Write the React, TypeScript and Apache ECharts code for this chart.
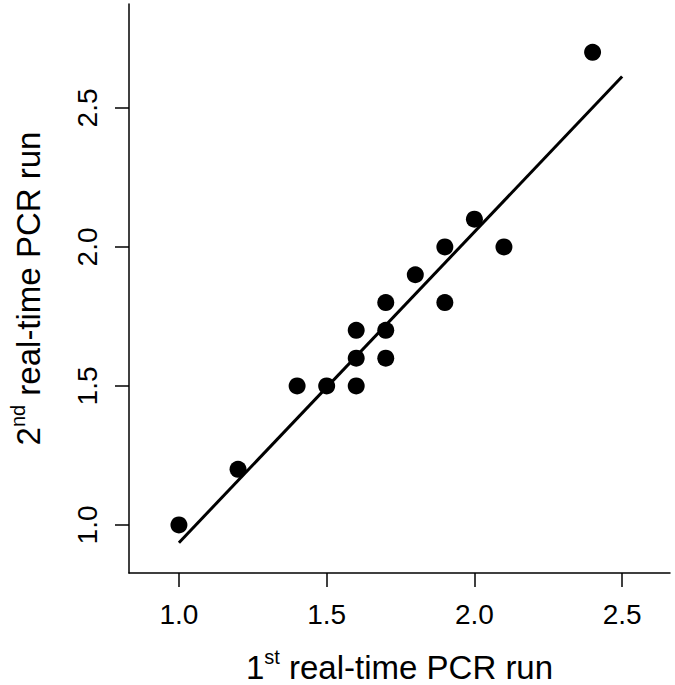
import React, { useEffect, useRef } from "react";
import * as echarts from "echarts";

// Data
const firstRun: number[] = [1.0, 1.2, 1.4, 1.5, 1.6, 1.6, 1.6, 1.7, 1.7, 1.7, 1.8, 1.9, 1.9, 2.0, 2.1, 2.4];
const secondRun: number[] = [1.0, 1.2, 1.5, 1.5, 1.5, 1.6, 1.7, 1.6, 1.7, 1.8, 1.9, 1.8, 2.0, 2.1, 2.0, 2.7];

// Fitted line endpoints
const fitX: number[] = [1.0, 2.5];
const fitY: number[] = [0.936, 2.613];

const xTicks: number[] = [1.0, 1.5, 2.0, 2.5];
const yTicks: number[] = [1.0, 1.5, 2.0, 2.5];

const FONT = "Liberation Sans, Arial, Helvetica, sans-serif";

export default function App() {
  const ref = useRef<HTMLDivElement>(null);

  useEffect(() => {
    document.body.style.margin = "0";
    if (!ref.current) return;
    const chart = echarts.init(ref.current, null, { renderer: "svg" });

    const points = firstRun.map((x, i) => [x, secondRun[i]]);
    const fit = fitX.map((x, i) => [x, fitY[i]]);

    const richTitle = {
      a: { fontSize: 33, fontFamily: FONT, color: "#000", lineHeight: 40 },
      s: { fontSize: 20, fontFamily: FONT, color: "#000", verticalAlign: "top", lineHeight: 20 },
    };

    const axisCommon = {
      axisLine: { show: true, lineStyle: { color: "#000", width: 1.5 } },
      axisTick: { show: true, length: 14, lineStyle: { color: "#000", width: 1.5 } },
      splitLine: { show: false },
    };

    chart.setOption({
      animation: false,
      backgroundColor: "#fff",
      grid: {
        left: 129,
        right: 5,
        top: 4,
        bottom: 112,
        containLabel: false,
        outerBoundsMode: "none",
      },
      xAxis: {
        type: "value",
        min: 0.831,
        max: 2.662,
        ...axisCommon,
        axisTick: { ...axisCommon.axisTick, customValues: xTicks },
        axisLabel: {
          customValues: xTicks,
          formatter: (v: number) => v.toFixed(1),
          fontSize: 28,
          fontFamily: FONT,
          color: "#000",
          margin: 27,
        },
        name: "{a|1}{s|st}{a| real-time PCR run}",
        nameLocation: "middle",
        nameGap: 74,
        nameTextStyle: { rich: richTitle },
      },
      yAxis: {
        type: "value",
        min: 0.827,
        max: 2.874,
        ...axisCommon,
        axisTick: { ...axisCommon.axisTick, customValues: yTicks },
        axisLabel: {
          customValues: yTicks,
          formatter: (v: number) => v.toFixed(1),
          fontSize: 28,
          fontFamily: FONT,
          color: "#000",
          rotate: 90,
          margin: 28,
        },
        name: "{a|2}{s|nd}{a| real-time PCR run}",
        nameLocation: "middle",
        nameGap: 81,
        nameTextStyle: { rich: richTitle },
      },
      series: [
        {
          type: "line",
          data: fit,
          symbol: "none",
          lineStyle: { color: "#000", width: 3, opacity: 1 },
          z: 2,
        },
        {
          type: "scatter",
          data: points,
          symbol: "circle",
          symbolSize: 17,
          itemStyle: { color: "#000", opacity: 1 },
          z: 3,
        },
      ],
    });

    return () => chart.dispose();
  }, []);

  return <div ref={ref} style={{ width: 675, height: 685 }} />;
}
